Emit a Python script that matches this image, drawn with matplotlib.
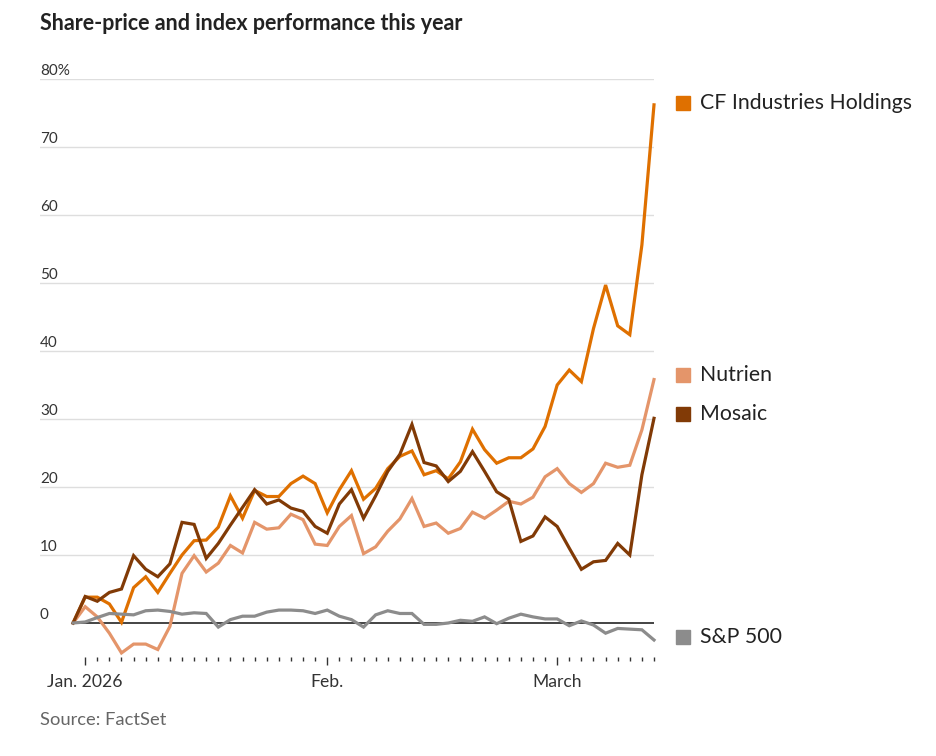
import matplotlib
matplotlib.use("Agg")
import matplotlib.pyplot as plt
from matplotlib.transforms import offset_copy, blended_transform_factory

# ---- data (cumulative % change, trading days from Dec 31 2025) ----
days = list(range(49))
cf = [0, 3.8, 3.8, 2.8, 0.1, 5.2, 6.8, 4.5, 7.3, 10.0, 12.1, 12.2, 14.1, 18.7, 15.4,
      19.5, 18.6, 18.6, 20.5, 21.6, 20.5, 16.2, 19.6, 22.4, 18.2, 19.8, 22.7, 24.5,
      25.3, 21.8, 22.4, 21.2, 23.7, 28.5, 25.5, 23.5, 24.3, 24.3, 25.6, 28.9, 35.0,
      37.2, 35.5, 43.3, 49.7, 43.7, 42.4, 55.6, 76.2]
mosaic = [0, 3.9, 3.2, 4.5, 5.0, 9.9, 7.9, 6.8, 8.7, 14.8, 14.5, 9.5, 11.7, 14.4, 17.0,
          19.6, 17.5, 18.1, 16.9, 16.4, 14.2, 13.2, 17.5, 19.6, 15.4, 18.7, 22.3, 24.8,
          29.2, 23.6, 23.1, 20.8, 22.3, 25.2, 22.3, 19.3, 18.2, 12.0, 12.8, 15.6, 14.2,
          11.0, 7.9, 9.0, 9.2, 11.7, 10.0, 21.8, 30.1]
nutrien = [0, 2.4, 0.9, -1.5, -4.4, -3.1, -3.1, -3.9, -0.5, 7.3, 9.9, 7.5, 8.8, 11.4,
           10.3, 14.8, 13.8, 14.0, 16.0, 15.2, 11.6, 11.4, 14.2, 15.8, 10.2, 11.2, 13.5,
           15.3, 18.3, 14.2, 14.7, 13.2, 13.9, 16.3, 15.4, 16.6, 17.9, 17.5, 18.5, 21.5,
           22.7, 20.5, 19.2, 20.5, 23.5, 22.9, 23.2, 28.4, 35.8]
sp500 = [0, 0.15, 0.8, 1.4, 1.3, 1.2, 1.8, 1.9, 1.7, 1.3, 1.5, 1.4, -0.6, 0.5, 1.0, 1.0,
         1.6, 1.9, 1.9, 1.8, 1.4, 1.9, 1.0, 0.5, -0.6, 1.2, 1.8, 1.4, 1.4, -0.2, -0.2,
         0.0, 0.4, 0.25, 0.9, -0.1, 0.7, 1.3, 0.9, 0.6, 0.6, -0.4, 0.3, -0.3, -1.5, -0.8,
         -0.9, -1.0, -2.5]

series_names = ["CF Industries Holdings", "Nutrien", "Mosaic", "S&P 500"]
series_vals = [cf, nutrien, mosaic, sp500]
series_colors = ["#DF7000", "#E4956A", "#813A06", "#8C8C8C"]
label_nudge = [0.3, 0.6, 0.6, 0.5]

yticks = [0, 10, 20, 30, 40, 50, 60, 70, 80]
ytick_labels = ["0", "10", "20", "30", "40", "50", "60", "70", "80%"]
month_ticks = [1, 21, 40]
month_labels = ["Jan. 2026", "Feb.", "March"]

plt.rcParams['font.family'] = ['Lato', 'DejaVu Sans']

W, H = 936, 756
fig = plt.figure(figsize=(W / 100, H / 100), dpi=100)
left, right, top, bottom = 40, 654, 79, 657
ax = fig.add_axes([left / W, 1 - bottom / H, (right - left) / W, (bottom - top) / H])

x0_px = 73
step = 12.07
ax.set_xlim(-(x0_px - left) / step, 48)
ax.set_ylim(-5, 80)
for s in ax.spines.values():
    s.set_visible(False)

# gridlines
for v in yticks[1:]:
    ax.axhline(v, color="#DEDEDE", lw=1.0, zorder=1)
ytr = blended_transform_factory(ax.transAxes, ax.transData)
for v, lab in zip(yticks, ytick_labels):
    ax.text(0, v + 0.6, lab, transform=ytr, ha="left", va="baseline",
            fontsize=11, color="#333333")
ax.set_yticks([])

# zero line
ax.hlines(0, days[0], days[-1], color="#111111", lw=1.1, zorder=2)

# lines
order = [3, 1, 2, 0]
for k in order:
    ax.plot(days, series_vals[k], color=series_colors[k], lw=2.3, zorder=3 + k,
            solid_joinstyle="miter", clip_on=False)

# labels at right
for name, vals, col, nd in zip(series_names, series_vals, series_colors, label_nudge):
    y = vals[-1] + nd
    tr_sq = offset_copy(ax.transData, fig=fig, x=28.5 * 0.72, y=0, units="points")
    ax.plot([days[-1]], [y], marker="s", ms=10.5, color=col, mec=col,
            transform=tr_sq, clip_on=False, ls="none")
    tr_tx = offset_copy(ax.transData, fig=fig, x=46 * 0.72, y=0, units="points")
    ax.text(days[-1], y, name, transform=tr_tx, ha="left", va="center",
            fontsize=15.3, color="#222222")

# x ticks
ax.set_xticks(days[1:], minor=True)
ax.set_xticks(month_ticks)
ax.set_xticklabels(month_labels)
ax.tick_params(axis="x", which="minor", length=3.2, width=1.0, color="#333333",
               direction="out")
ax.tick_params(axis="x", which="major", length=6, width=1.0, color="#333333",
               direction="out", labelsize=12.6, labelcolor="#333333", pad=6)

fig.text(40 / W, 1 - 23 / H, "Share-price and index performance this year",
         fontsize=15.5, fontweight="bold", color="#222222", ha="left", va="center")
fig.text(40 / W, 1 - 720 / H, "Source: FactSet", fontsize=13.2, color="#666666",
         ha="left", va="center")

fig.savefig("out.png", dpi=100)
